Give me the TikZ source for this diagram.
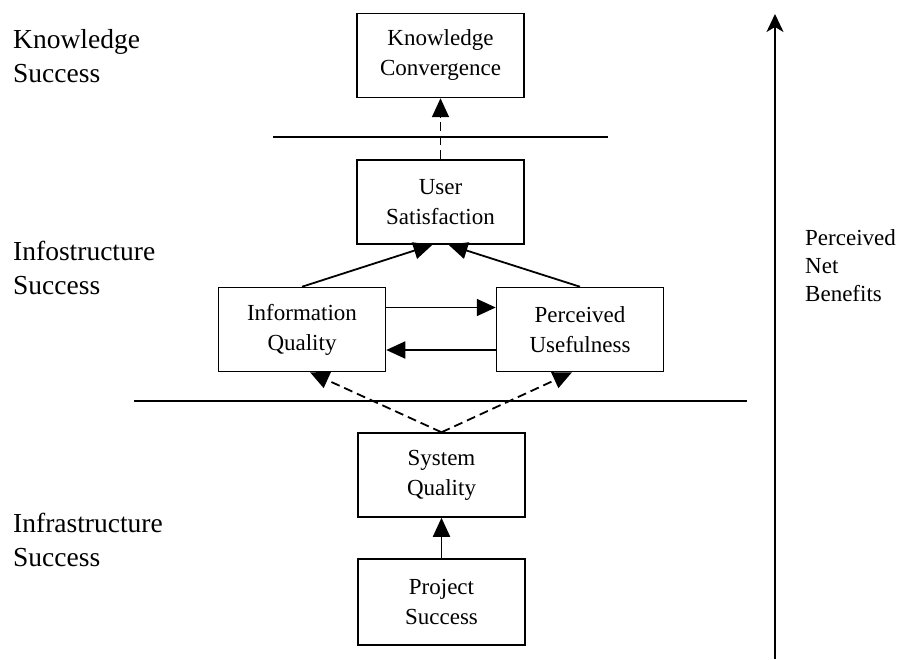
\documentclass[tikz,border=0pt]{standalone}
\usepackage{fontspec}
\setmainfont{Liberation Serif}
\usetikzlibrary{arrows.meta,calc}
\begin{document}
\begin{tikzpicture}[x=1pt,y=-1pt,
  stage/.style={draw,line width=1.5pt,rectangle,minimum width=167pt,minimum height=84pt,
    inner sep=0pt,align=center,font=\fontsize{23}{30}\selectfont},
  level/.style={anchor=north west,inner sep=0pt,align=left,font=\fontsize{27.5}{34}\selectfont},
  sidenote/.style={anchor=north west,inner sep=0pt,align=left,font=\fontsize{23}{28}\selectfont},
  link/.style={line width=1.8pt,-{Triangle[length=19pt,width=17pt]}},
  weaklink/.style={link,dash pattern=on 9pt off 5pt},
  divider/.style={line width=1.9pt}]
\useasboundingbox (0,0) rectangle (899,660);

% level labels
\node[level] (lk) at (13,29) {Knowledge\\Success};
\node[level] (li) at (13,241) {Infostructure\\Success};
\node[level] (lr) at (13,513) {Infrastructure\\Success};

% constructs
\node[stage] (kc) at (440.5,55.5) {Knowledge\\Convergence};
\node[stage] (us) at (440.5,202) {User\\Satisfaction};
\node[stage] (iq) at (302,329.5) {Information\\Quality};
\node[stage] (pu) at (580,329.5) {Perceived\\Usefulness};
\node[stage] (sq) at (441.5,475) {System\\Quality};
\node[stage,minimum height=86pt] (ps) at (441.5,602) {Project\\Success};

% level dividers
\coordinate (d1a) at (273,137);
\coordinate (d1b) at (608,137);
\coordinate (d2a) at (134,401);
\coordinate (d2b) at (747,401);
\draw[divider] (d1a) -- (d1b);
\draw[divider] (d2a) -- (d2b);

% relations
\draw[weaklink] (us.north) -- (kc.south);
\draw[link] (iq.north) -- ($(us.south)+(-8,0)$);
\draw[link] (pu.north) -- ($(us.south)+(8,0)$);
\draw[link] ($(iq.east)+(0,-22)$) -- ($(pu.west)+(0,-22)$);
\draw[link] ($(pu.west)+(0,20.5)$) -- ($(iq.east)+(0,20.5)$);
\draw[weaklink] (sq.north) -- ($(iq.south)+(8,0)$);
\draw[weaklink] (sq.north) -- ($(pu.south)+(-8,0)$);
\draw[link] (ps.north) -- (sq.south);

% net benefits axis
\coordinate (ax0) at (775,659);
\coordinate (ax1) at (775,14);
\draw[line width=1.8pt,-{Stealth[length=18pt,width=17pt,inset=5pt]}] (ax0) -- (ax1);
\node[sidenote] (nb) at (805,229) {Perceived\\Net\\Benefits};
\end{tikzpicture}
\end{document}
